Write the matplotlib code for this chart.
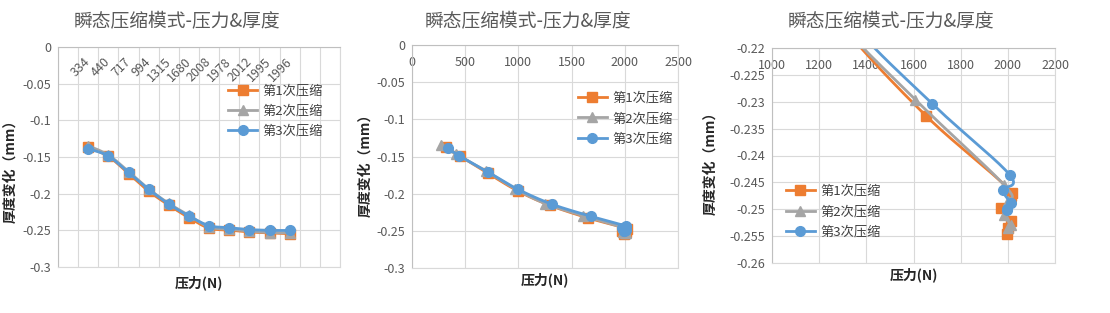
import matplotlib
matplotlib.use("Agg")
import matplotlib.pyplot as plt
import numpy as np
from matplotlib.ticker import FuncFormatter

plt.rcParams['font.family'] = ['Noto Sans CJK SC', 'DejaVu Sans']

# category labels for the first chart
force_labels = ["334", "440", "717", "994", "1315", "1680", "2008", "1978", "2012", "1995", "1996"]

# force (N)
force_1 = [316, 448, 714, 996, 1294, 1655, 2019, 1969, 2012, 1999, 1995]
force_2 = [270, 417, 699, 971, 1253, 1608, 1985, 2002, 1985, 2015, 2000]
force_3 = [334, 440, 717, 994, 1315, 1680, 2008, 1978, 2012, 1995, 1996]

# thickness change (mm)
thick_1 = [-0.1370, -0.1491, -0.1725, -0.1965, -0.2156, -0.2327, -0.2470, -0.2497, -0.2522, -0.2535, -0.2546]
thick_2 = [-0.1347, -0.1473, -0.1698, -0.1935, -0.2133, -0.2296, -0.2455, -0.2485, -0.2511, -0.2530, -0.2535]
thick_3 = [-0.1388, -0.1487, -0.1711, -0.1940, -0.2142, -0.2304, -0.2436, -0.2464, -0.2489, -0.2500, -0.2502]

series_names = ["第1次压缩", "第2次压缩", "第3次压缩"]
colors = ["#ED7D31", "#A5A5A5", "#5B9BD5"]
markers = ["s", "^", "o"]
msizes = [6.5, 6.5, 7]

title = "瞬态压缩模式-压力&厚度"
grid_c = "#D9D9D9"
axis_c = "#BFBFBF"
text_c = "#595959"


def smooth(x, y, n=20):
    # Excel-like smoothed line (Catmull-Rom as cubic Bezier)
    x = np.asarray(x, float)
    y = np.asarray(y, float)
    px = np.concatenate([[x[0]], x, [x[-1]]])
    py = np.concatenate([[y[0]], y, [y[-1]]])
    t = np.linspace(0, 1, n)[:, None]
    out = []
    for i in range(len(x) - 1):
        p0 = np.array([px[i], py[i]])
        p1 = np.array([px[i + 1], py[i + 1]])
        p2 = np.array([px[i + 2], py[i + 2]])
        p3 = np.array([px[i + 3], py[i + 3]])
        c1 = p1 + (p2 - p0) / 6
        c2 = p2 - (p3 - p1) / 6
        seg = ((1 - t) ** 3) * p1 + 3 * ((1 - t) ** 2) * t * c1 + 3 * (1 - t) * t ** 2 * c2 + t ** 3 * p2
        out.append(seg if i == 0 else seg[1:])
    seg = np.vstack(out)
    return seg[:, 0], seg[:, 1]


def fmt(v, p):
    v = round(v, 4)
    if abs(v) < 1e-9:
        return "0"
    return "%g" % v


def style(ax, ylab_x, ylab_y, xlab_y):
    for s in ax.spines.values():
        s.set_color(grid_c)
        s.set_linewidth(0.8)
    ax.spines["left"].set_color(axis_c)
    ax.spines["top"].set_color(axis_c)
    ax.grid(True, color=grid_c, linewidth=0.8)
    ax.set_axisbelow(True)
    ax.yaxis.set_major_formatter(FuncFormatter(fmt))
    ax.tick_params(axis="y", length=0, pad=5, labelsize=9, labelcolor=text_c)
    ax.set_ylabel("厚度变化（mm）", fontsize=10, fontweight="bold", color="#262626")
    ax.yaxis.set_label_coords(ylab_x, ylab_y)
    ax.set_xlabel("压力(N)", fontsize=10, fontweight="bold", color="#262626")
    ax.xaxis.set_label_coords(0.5, xlab_y)


fig = plt.figure(figsize=(11.1, 3.13), dpi=100, facecolor="white")
W, H = 1110, 313


def add_ax(l, r, t, b):
    return fig.add_axes([l / W, 1 - b / H, (r - l) / W, (b - t) / H])


thick = [thick_1, thick_2, thick_3]
forces = [force_1, force_2, force_3]
leg_kw = dict(loc="upper left", frameon=False, fontsize=9.5, borderpad=0, borderaxespad=0,
              handlelength=2.2, handletextpad=0.4, labelspacing=0.55, labelcolor="#404040")

# chart 1: category line chart
ax1 = add_ax(58, 340, 47, 267)
cat_x = np.arange(len(force_labels)) + 1.5
for i in range(3):
    sx, sy = smooth(cat_x, thick[i])
    ax1.plot(sx, sy, color=colors[i], lw=2)
    ax1.plot(cat_x, thick[i], ls="none", marker=markers[i], ms=msizes[i], color=colors[i])
    ax1.plot([], [], color=colors[i], lw=2, marker=markers[i], ms=msizes[i], label=series_names[i])
ax1.set_xlim(0, 14)
ax1.set_ylim(-0.3, 0)
ax1.set_xticks(np.arange(0, 15))
ax1.set_yticks(np.arange(-0.3, 0.001, 0.05))
ax1.tick_params(axis="x", length=0, labelbottom=False)
for xx, lab in zip(cat_x, force_labels):
    ax1.text(xx, -0.017, lab, rotation=45, rotation_mode="anchor", ha="right", va="center",
             fontsize=9, color=text_c)
style(ax1, -0.145, 0.45, -0.04)
ax1.legend(bbox_to_anchor=(0.603, 0.83), **leg_kw)

# chart 2: scatter with smooth lines, full range
ax2 = add_ax(412, 678, 45, 268)
for i in range(3):
    sx, sy = smooth(forces[i], thick[i])
    ax2.plot(sx, sy, color=colors[i], lw=2)
    ax2.plot(forces[i], thick[i], ls="none", marker=markers[i], ms=msizes[i], color=colors[i])
    ax2.plot([], [], color=colors[i], lw=2, marker=markers[i], ms=msizes[i], label=series_names[i])
ax2.set_xlim(0, 2500)
ax2.set_ylim(-0.3, 0)
ax2.set_xticks(np.arange(0, 2501, 500))
ax2.set_yticks(np.arange(-0.3, 0.001, 0.05))
ax2.xaxis.tick_top()
ax2.tick_params(axis="x", length=0, pad=-17, labelsize=9, labelcolor=text_c)
style(ax2, -0.15, 0.475, -0.018)
ax2.legend(bbox_to_anchor=(0.624, 0.79), **leg_kw)

# chart 3: zoomed scatter
ax3 = add_ax(772, 1055, 48, 263)
for i in range(3):
    sx, sy = smooth(forces[i], thick[i])
    ax3.plot(sx, sy, color=colors[i], lw=2)
    ax3.plot(forces[i], thick[i], ls="none", marker=markers[i], ms=msizes[i], color=colors[i])
    ax3.plot([], [], color=colors[i], lw=2, marker=markers[i], ms=msizes[i], label=series_names[i])
ax3.set_xlim(1000, 2200)
ax3.set_ylim(-0.26, -0.22)
ax3.set_xticks(np.arange(1000, 2201, 200))
ax3.set_yticks(np.arange(-0.26, -0.2199, 0.005))
ax3.xaxis.tick_top()
ax3.tick_params(axis="x", length=0, pad=-17, labelsize=9, labelcolor=text_c)
style(ax3, -0.194, 0.479, -0.019)
ax3.legend(bbox_to_anchor=(0.049, 0.363), **leg_kw)

for cx in [177, 528, 891]:
    fig.text(cx / W, 1 - 22 / H, title, ha="center", va="center", fontsize=13.5, color=text_c)

fig.savefig("out.png", dpi=100, facecolor="white")
